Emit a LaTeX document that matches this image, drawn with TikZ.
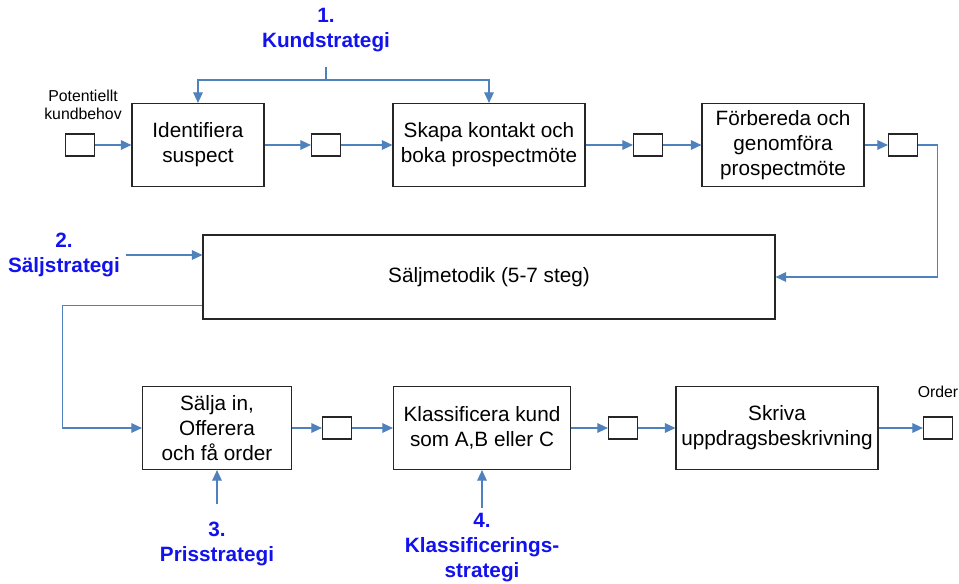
\documentclass[tikz,border=0pt]{standalone}
\usepackage{fontspec}
\setmainfont{Liberation Sans}
\usetikzlibrary{arrows.meta}
\definecolor{flowblue}{HTML}{4F81BD}
\definecolor{stratblue}{HTML}{1212EE}

\begin{document}
\begin{tikzpicture}[x=0.02cm, y=-0.02cm,
  box/.style={draw=black!85, line width=0.7pt, align=center, font=\fontsize{11.8}{14.2}\selectfont, minimum height=1.66cm, inner sep=2pt},
  sm/.style={draw=black!85, line width=0.7pt, minimum width=0.58cm, minimum height=0.44cm, inner sep=0pt},
  lbl/.style={align=center, font=\fontsize{9}{10.3}\selectfont},
  strat/.style={align=center, text=stratblue, font=\fontsize{11.8}{14.2}\selectfont\bfseries},
  arr/.style={draw=flowblue, line width=0.6pt, -{Triangle[length=6pt,width=5.5pt]}}]
\useasboundingbox (0,0) rectangle (959,584);

% top row
\node[lbl] (pot) at (83,105) {Potentiellt\\kundbehov};
\node[sm] (s0) at (80,145) {};
\node[box, minimum width=2.64cm] (ident) at (198,145) {Identifiera\\suspect};
\node[sm] (s1) at (326,145) {};
\node[box, minimum width=3.84cm] (skapa) at (489,145) {Skapa kontakt och\\boka prospectmöte};
\node[sm] (s2) at (648,145) {};
\node[box, minimum width=3.24cm] (forb) at (783,145) {Förbereda och\\genomföra\\prospectmöte};
\node[sm] (s3) at (903,145) {};

% middle
\node[box, minimum width=11.44cm, minimum height=1.68cm] (metod) at (489,277) {Säljmetodik (5-7 steg)};

% bottom row
\node[box, minimum width=2.98cm] (salja) at (217,428) {Sälja in,\\Offerera\\och få order};
\node[sm] (s4) at (337,428) {};
\node[box, minimum width=3.54cm] (klass) at (482,428) {Klassificera kund\\som A,B eller C};
\node[sm] (s5) at (623,428) {};
\node[box, minimum width=4.04cm] (skriva) at (777,428) {Skriva\\uppdragsbeskrivning};
\node[sm] (s6) at (938,428) {};
\node[lbl] (order) at (938,392) {Order};

% strategies
\node[strat] (k1) at (326,30) {1.\\Kundstrategi};
\node[strat] (k2) at (64,255) {2.\\Säljstrategi};
\node[strat] (k3) at (217,544) {3.\\Prisstrategi};
\node[strat] (k4) at (482,548) {4.\\Klassificerings-\\strategi};
\coordinate (ks) at (326,80);

% flow
\draw[arr] (s0) -- (ident);
\draw[arr] (ident) -- (s1);
\draw[arr] (s1) -- (skapa);
\draw[arr] (skapa) -- (s2);
\draw[arr] (s2) -- (forb);
\draw[arr] (forb) -- (s3);
\draw[arr] (s3.east) -- ++(0.38cm,0) |- (metod.east);
\draw[arr] ([yshift=0.28cm]metod.south west) -- ++(-2.8cm,0) |- (salja.west);
\draw[arr] (salja) -- (s4);
\draw[arr] (s4) -- (klass);
\draw[arr] (klass) -- (s5);
\draw[arr] (s5) -- (skriva);
\draw[arr] (skriva) -- (s6);

% strategy inputs
\draw[flowblue, line width=0.6pt, shorten <=5pt] (k1) -- (ks);
\draw[arr] (ks) -| (ident.north);
\draw[arr] (ks) -| (skapa.north);
\draw[arr] (k2) -- (k2 -| metod.west);
\draw[arr, shorten <=7pt] (k3) -- (salja);
\draw[arr] (k4) -- (klass);
\end{tikzpicture}
\end{document}
